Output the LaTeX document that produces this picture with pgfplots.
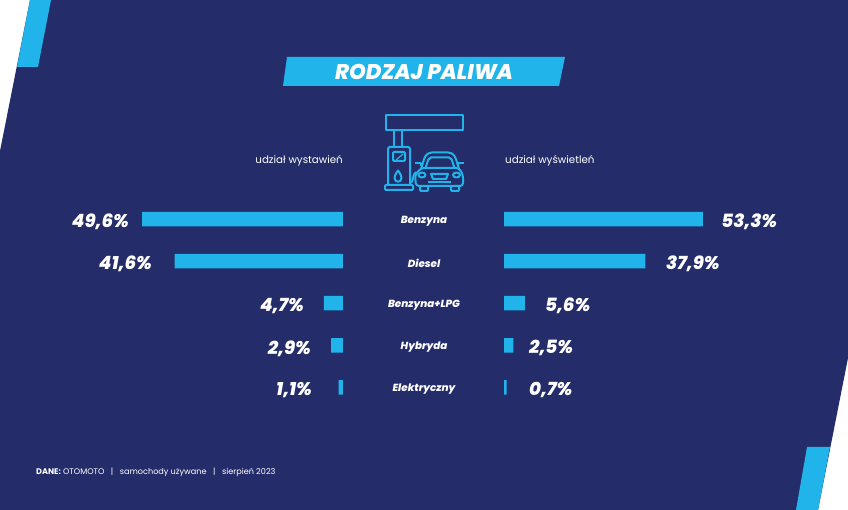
\documentclass[border=0pt]{standalone}
\usepackage{pgfplots}
\usepackage{pgfplotstable}
\usepackage{fontspec}
\pgfplotsset{compat=1.18}
\setmainfont{Poppins}
\newfontfamily\heavy{Poppins ExtraBold Italic}
\definecolor{navy}{HTML}{242D69}
\definecolor{sky}{HTML}{20B4EA}
\pgfplotstableread{
idx val gap
0 49.6 -13.1
1 41.6 -22.5
2 4.7 -20
3 2.9 -20.3
4 1.1 -26.5
}\lefttable
\pgfplotstableread{
idx val gap
0 53.3 18.2
1 37.9 20.6
2 5.6 20
3 2.5 15.7
4 0.7 22.4
}\righttable
\pgfplotsset{
  fuel/.style={
    scale only axis, height=210.5pt, ymin=-0.5, ymax=4.5, y dir=reverse,
    xmin=0, clip=false, axis line style={draw=none}, major tick length=0pt,
    xtick=\empty, ytick={0,1,2,3,4},
    xbar, bar width=14.5pt, bar shift=0pt,
    point meta=x,
    nodes near coords={\pgfmathprintnumber[fixed,fixed zerofill,precision=1,use comma,assume math mode=true]{\pgfplotspointmeta}\%},
    visualization depends on=\thisrow{gap} \as \gapv,
  },
  barstyle/.style={fill=sky,draw=none},
}
\newcommand{\pct}{\fontsize{18.3}{20}\selectfont\heavy\color{white}}
\begin{document}
\begin{tikzpicture}[x=1pt,y=1pt]
\path[use as bounding box] (0,0) rectangle (848,510);
\fill[white] (0,0) rectangle (848,510);
% background
\fill[navy] (30,510) -- (848,510) -- (848,152) -- (818,0) -- (0,0) -- (0,359) -- cycle;
\fill[sky] (30,510) -- (51,510) -- (38,443) -- (17,443) -- cycle;
\fill[sky] (807,63) -- (830,63) -- (818,0) -- (796,0) -- cycle;
% title
\fill[sky] (287,453) -- (565,453) -- (559,424) -- (283,424) -- cycle;
\node[text=white,font=\fontsize{21.3}{24}\selectfont\heavy] at (424,438) {RODZAJ PALIWA};
% subheads
\node[text=white,anchor=east,inner sep=0,font=\fontsize{10.3}{12}\selectfont] at (343,349) {udział wystawień};
\node[text=white,anchor=west,inner sep=0,font=\fontsize{10.3}{12}\selectfont] at (505,349) {udział wyświetleń};
% footer
\node[text=white,anchor=west,inner sep=0,font=\fontsize{8.13}{10}\selectfont] at (36,38) {\textbf{DANE:} OTOMOTO\ \ \ |\ \ \ samochody używane\ \ \ |\ \ \ sierpień 2023};
% icon
\begin{scope}[shift={(0,510)},y=-1pt,draw=sky,line width=2pt,line join=round]
\draw (385.5,115.5) rectangle (463,130);
\draw (394,130) -- (394,147) (402,130) -- (402,147);
\draw[rounded corners=2pt] (388,185) -- (388,147) -- (410,147) -- (410,185);
\draw[rounded corners=1pt] (385,185) rectangle (413,190);
\draw[rounded corners=1pt] (393,152) rectangle (405,161);
\draw[line width=1.2pt] (396,160) -- (403,154);
\draw (398,170.5) .. controls (395,175) and (394.5,176) .. (394.5,178) .. controls (394.5,183) and (401.5,183) .. (401.5,178) .. controls (401.5,176) and (401,175) .. (398,170.5) -- cycle;
\draw (410,183) .. controls (414,183) and (412,174) .. (416,172);
% car
\draw[rounded corners=3pt] (421,169) -- (425,156) -- (429,152.5) -- (451,152.5) -- (455,156) -- (459,169);
\draw[rounded corners=2pt] (425.5,168) -- (429,157.5) -- (451,157.5) -- (454.5,168);
\draw[rounded corners=3pt] (416,186) -- (415,175) -- (421,168) -- (459,168) -- (463,175) -- (463,186) -- cycle;
\draw[rounded corners=1pt] (420,186) -- (420,191) -- (428,191) -- (428,186) (451,186) -- (451,191) -- (459,191) -- (459,186);
\draw (422,175) ellipse (3.5 and 2.5) (456.5,175) ellipse (3.5 and 2.5);
\draw (431,174) -- (448,174) -- (446,179) -- (433,179) -- cycle;
\draw (428,182.5) -- (451,182.5);
\draw (415,163) -- (421,163) -- (421,166) (464,163) -- (458,163) -- (458,166);
\end{scope}
% left bars
\begin{axis}[fuel, at={(0pt,101.5pt)}, anchor=south west, width=343pt, xmax=84.69, x dir=reverse,
  yticklabels={}, 
  every node near coord/.append style={anchor=east,inner sep=0pt,font=\pct,xshift=\gapv pt,yshift=-3pt}]
\addplot[barstyle] table[x=val,y=idx] {\lefttable};
\end{axis}
% right bars with category labels
\begin{axis}[fuel, at={(504pt,101.5pt)}, anchor=south west, width=344pt, xmax=92.2,
  yticklabels={Benzyna,Diesel,Benzyna+LPG,Hybryda,Elektryczny},
  y tick label style={anchor=center,xshift=-80pt,yshift=-2pt,text=white,font=\fontsize{10.3}{12}\selectfont\heavy},
  every node near coord/.append style={anchor=west,inner sep=0pt,font=\pct,xshift=\gapv pt,yshift=-3pt}]
\addplot[barstyle] table[x=val,y=idx] {\righttable};
\end{axis}
\end{tikzpicture}
\end{document}
